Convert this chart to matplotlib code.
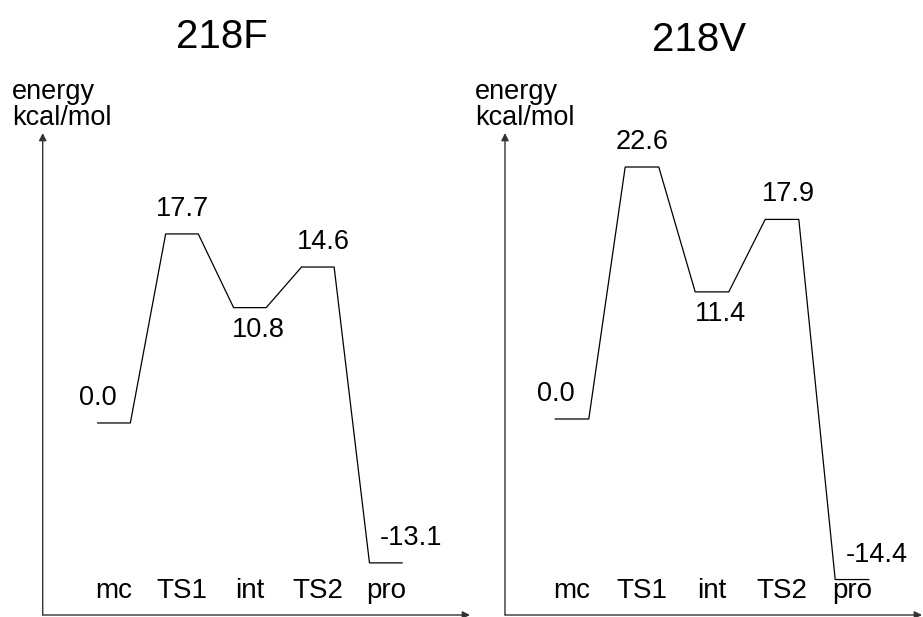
import matplotlib
matplotlib.use("Agg")
import matplotlib.pyplot as plt

plt.rcParams['font.family'] = ['Liberation Sans', 'DejaVu Sans']

# reaction path states and relative energies (kcal/mol)
states = ['mc', 'TS1', 'int', 'TS2', 'pro']
energy_218F = [0.0, 17.7, 10.8, 14.6, -13.1]
energy_218V = [0.0, 22.6, 11.4, 17.9, -14.4]
titles = ['218F', '218V']

# label nudges in pixels, per state (mc left, pro right, int below)
label_dx = [-16, 0, 8, 6, 25]
HALF = 0.24  # half width of a level bar, in state units


def draw_profile(ax, energies, xlim, ylim):
    ax.set_xlim(*xlim)
    ax.set_ylim(*ylim)
    ax.axis('off')

    # axes with arrow heads
    arrow = dict(arrowstyle='-|>', lw=1.0, color='#333333', mutation_scale=11,
                 shrinkA=0, shrinkB=0)
    ax.annotate('', xy=(0, 1), xytext=(0, 0), xycoords='axes fraction',
                arrowprops=arrow, annotation_clip=False)
    ax.annotate('', xy=(1, 0), xytext=(0, 0), xycoords='axes fraction',
                arrowprops=arrow, annotation_clip=False)

    # profile: flat level per state joined by straight lines
    xs, ys = [], []
    for i, e in enumerate(energies):
        xs += [i - HALF, i + HALF]
        ys += [e, e]
    ax.plot(xs, ys, color='black', lw=0.9, solid_joinstyle='miter')

    for i, (name, e) in enumerate(zip(states, energies)):
        if name == 'int':
            ax.annotate(f'{e:.1f}', xy=(i, e), xytext=(label_dx[i], -9),
                        textcoords='offset pixels', ha='center', va='top',
                        fontsize=19.5)
        else:
            ax.annotate(f'{e:.1f}', xy=(i, e), xytext=(label_dx[i], 18),
                        textcoords='offset pixels', ha='center', va='baseline',
                        fontsize=19.5)
        ax.text(i, 0.035, name, transform=ax.get_xaxis_transform(),
                ha='center', va='baseline', fontsize=20)

    ax.text(-0.072, 1.004, 'energy\nkcal/mol', transform=ax.transAxes,
            ha='left', va='bottom', fontsize=19.5, linespacing=1.0)


fig = plt.figure(figsize=(9.23, 6.17), dpi=100)
ax1 = fig.add_axes([0.04626, 0.00324, 0.46295, 0.78120])
ax2 = fig.add_axes([0.54713, 0.00324, 0.45179, 0.78120])

draw_profile(ax1, energy_218F, (-1.05, 5.24), (-17.98, 27.15))
draw_profile(ax2, energy_218V, (-0.957, 5.0), (-17.58, 25.65))

fig.text(222 / 923, 1 - 48 / 617, titles[0], ha='center', va='baseline', fontsize=29)
fig.text(699 / 923, 1 - 51 / 617, titles[1], ha='center', va='baseline', fontsize=29)

fig.savefig('out.png', dpi=100)
